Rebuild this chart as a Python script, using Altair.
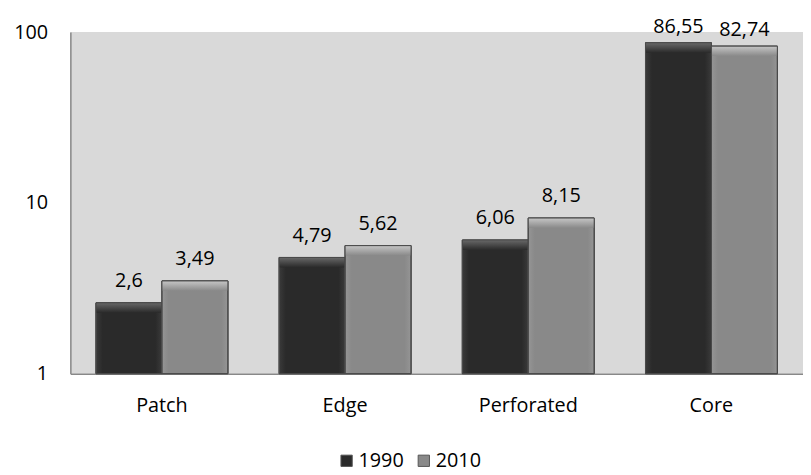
import altair as alt
import pandas as pd

categories = ["Patch", "Edge", "Perforated", "Core"]
years = ["1990", "2010"]
v1990 = [2.6, 4.79, 6.06, 86.55]
v2010 = [3.49, 5.62, 8.15, 82.74]

rows = []
for c, a, b in zip(categories, v1990, v2010):
    rows.append({"cat": c, "year": "1990", "value": a, "label": f"{a:g}".replace(".", ",")})
    rows.append({"cat": c, "year": "2010", "value": b, "label": f"{b:g}".replace(".", ",")})
df = pd.DataFrame(rows)

FONT = "Open Sans"
FS = 20
base_colors = {"1990": "#2a2a2a", "2010": "#898989"}
edge_colors = {"1990": "#3a3a3a", "2010": "#959595"}
top_colors = {"1990": ("#686868", "#2a2a2a"), "2010": ("#c6c6c6", "#898989")}

x = alt.X("cat:N", sort=categories, title=None,
          scale=alt.Scale(paddingInner=0.28, paddingOuter=0.14),
          axis=alt.Axis(labelAngle=0, labelFontSize=FS, labelFont=FONT, labelColor="black",
                        ticks=False, domainColor="#888888", domainWidth=1.5, labelPadding=22))
y = alt.Y("value:Q", title=None,
          scale=alt.Scale(type="log", domain=[1, 100], nice=False),
          axis=alt.Axis(values=[1, 10, 100], labelFontSize=FS, labelFont=FONT, labelColor="black",
                        ticks=False, grid=False, domainColor="#888888", domainWidth=1.5,
                        labelPadding=23, format="~s"))
xo = alt.XOffset("year:N", sort=years, scale=alt.Scale(paddingInner=0, paddingOuter=0))

base = alt.Chart(df)

bars = base.mark_bar(stroke="#4a4a4a", strokeWidth=1).encode(
    x=x, y=y, y2=alt.datum(1), xOffset=xo,
    color=alt.Color("year:N", sort=years,
                    scale=alt.Scale(domain=years, range=[base_colors[y_] for y_ in years]),
                    legend=alt.Legend(title=None, orient="none", direction="horizontal",
                                      legendX=269, legendY=423, symbolType="square",
                                      symbolSize=130, labelFontSize=FS, labelFont=FONT,
                                      labelColor="black", columnPadding=10, labelOffset=2,
                                      symbolStrokeColor="#555555", symbolStrokeWidth=1)),
)

layers = [bars]
for yr in years:
    side = base.transform_filter(alt.datum.year == yr).mark_bar(
        color=alt.Gradient(gradient="linear", x1=0, y1=0, x2=1, y2=0,
                           stops=[alt.GradientStop(color=edge_colors[yr], offset=0),
                                  alt.GradientStop(color=base_colors[yr], offset=0.1),
                                  alt.GradientStop(color=base_colors[yr], offset=0.9),
                                  alt.GradientStop(color=edge_colors[yr], offset=1)]),
        stroke="#4a4a4a", strokeWidth=1,
    ).encode(x=x, y=y, y2=alt.datum(1), xOffset=xo)
    top = base.transform_filter(alt.datum.year == yr).transform_calculate(
        bev="datum.value / pow(10, 10 / 172.5)"
    ).mark_bar(
        color=alt.Gradient(gradient="linear", x1=0, y1=0, x2=0, y2=1,
                           stops=[alt.GradientStop(color=top_colors[yr][0], offset=0),
                                  alt.GradientStop(color=top_colors[yr][1], offset=1)]),
        strokeWidth=0,
    ).encode(x=x, y=y, y2="bev:Q", xOffset=xo)
    outline = base.transform_filter(alt.datum.year == yr).mark_bar(
        fillOpacity=0, stroke="#4a4a4a", strokeWidth=1,
    ).encode(x=x, y=y, y2=alt.datum(1), xOffset=xo)
    layers += [side, top, outline]

texts_low = base.transform_filter(alt.datum.value < 50).mark_text(
    baseline="alphabetic", dy=-16, fontSize=FS, font=FONT, color="black"
).encode(x=x, y=y, xOffset=xo, text="label:N")
texts_high = base.transform_filter(alt.datum.value >= 50).mark_text(
    baseline="alphabetic", dy=-10, fontSize=FS, font=FONT, color="black"
).encode(x=x, y=y, xOffset=xo, text="label:N")
layers += [texts_low, texts_high]

chart = alt.layer(*layers).properties(
    width=740, height=345,
    autosize=alt.AutoSizeParams(type="none"),
    padding={"left": 63, "top": 22, "right": 0, "bottom": 100},
).configure_view(fill="#d9d9d9", stroke=None)

chart.save("out.html", embed_options={"renderer": "svg", "actions": False})
